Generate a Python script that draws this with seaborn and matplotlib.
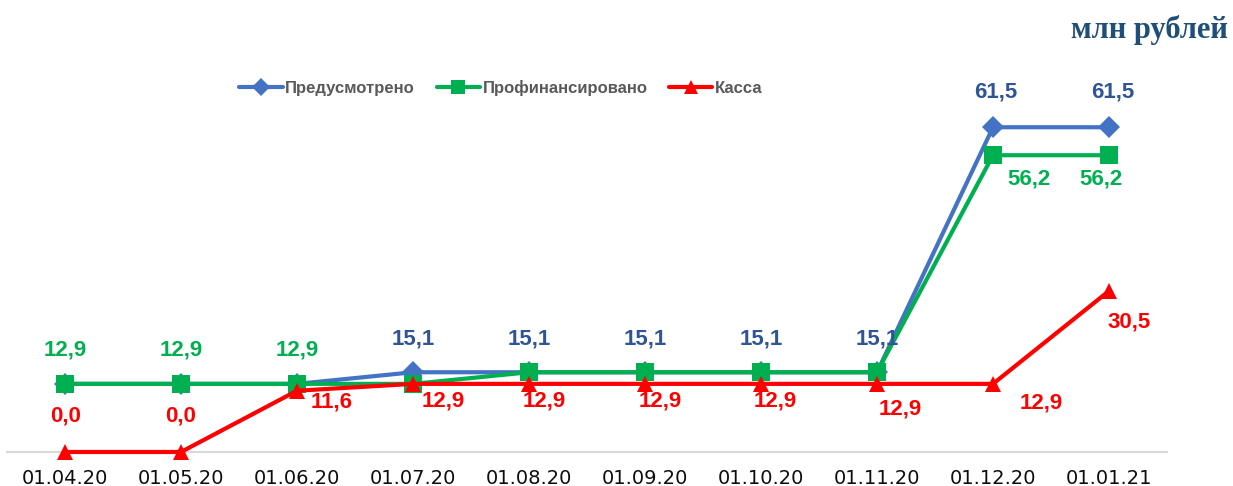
import matplotlib
matplotlib.use("Agg")
import matplotlib.pyplot as plt
import numpy as np
import seaborn as sns

dates = ['01.04.20', '01.05.20', '01.06.20', '01.07.20', '01.08.20',
         '01.09.20', '01.10.20', '01.11.20', '01.12.20', '01.01.21']
planned = [12.9, 12.9, 12.9, 15.1, 15.1, 15.1, 15.1, 15.1, 61.5, 61.5]
financed = [12.9, 12.9, 12.9, 12.9, 15.1, 15.1, 15.1, 15.1, 56.2, 56.2]
cash = [0.0, 0.0, 11.6, 12.9, 12.9, 12.9, 12.9, 12.9, 12.9, 30.5]
series_names = ['Предусмотрено', 'Профинансировано', 'Касса']
unit_text = 'млн рублей'

# label offsets in pixels (dx, dy), None = label hidden
blue_off = [None, None, None, (0, 33), (0, 33), (0, 33), (0, 33), (0, 33), (3, 35), (4, 35)]
green_off = [(0, 34), (0, 34), (0, 34), None, None, None, None, None, (36, -24), (-8, -24)]
red_off = [(1, 36), (0, 36), (35, -11), (30, -17), (15, -17), (15, -17), (14, -17),
           (23, -25), (48, -19), (20, -31)]

sns.set_style("white")
plt.rcParams['font.family'] = ['Liberation Sans', 'DejaVu Sans']

fig = plt.figure(figsize=(12.33, 4.86), dpi=100)
ax = fig.add_axes([7 / 1233, 0.07, 1160 / 1233, 0.7605])

x = np.arange(len(dates))
styles = [
    (planned, '#4472C4', 'D', 11, '#2F5597', blue_off),
    (financed, '#00B050', 's', 12.5, '#00B050', green_off),
    (cash, '#FF0000', '^', 12, '#FF0000', red_off),
]
for (vals, col, mk, ms, lab_col, offs), name in zip(styles, series_names):
    sns.lineplot(x=x, y=vals, color=col, marker=mk, markersize=ms, linewidth=3,
                 markeredgewidth=0, label=name, ax=ax, clip_on=False, zorder=3)
    for xi, v, off in zip(x, vals, offs):
        if off is None:
            continue
        ax.annotate(f'{v:.1f}'.replace('.', ','), (xi, v), xytext=off,
                    textcoords='offset pixels', ha='center', va='center',
                    fontsize=16, fontweight='bold', color=lab_col, zorder=5)

ax.set_xlim(-0.5, len(dates) - 0.5)
ax.set_ylim(0, 70)
ax.set_xticks(x)
ax.set_xticklabels(dates, fontsize=14, color='#0D0D0D', family='DejaVu Sans')
ax.set_yticks([])
ax.tick_params(axis='x', length=0, pad=12)
for s in ['top', 'left', 'right']:
    ax.spines[s].set_visible(False)
ax.spines['bottom'].set_color('#D9D9D9')
ax.spines['bottom'].set_linewidth(1.5)
ax.set_xlabel('')
ax.set_ylabel('')

ax.legend(loc='center', bbox_to_anchor=(501 / 1233, 1 - 88 / 486),
          bbox_transform=fig.transFigure, ncol=3, frameon=False,
          handlelength=2.6, handletextpad=0.15, columnspacing=1.3,
          numpoints=1, prop={'weight': 'bold', 'size': 12},
          labelcolor='#595959', markerscale=0.8)

fig.text(1228 / 1233, 1 - 30 / 486, unit_text, ha='right', va='center',
         fontsize=22, fontweight='bold', color='#1F4E79',
         family=['Liberation Serif', 'DejaVu Serif'])

fig.savefig('out.png', dpi=100)
